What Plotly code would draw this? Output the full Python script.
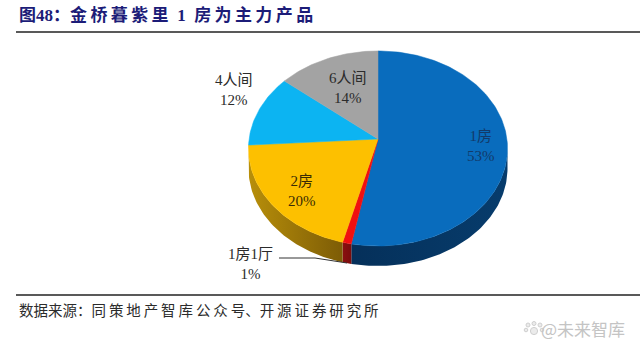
import math
import plotly.graph_objects as go

categories = ["1房", "1房1厅", "2房", "4人间", "6人间"]
values = [53, 1, 20, 12, 14]
top_colors = ["#096cbd", "#f01010", "#fdc000", "#0cb4f2", "#a3a3a3"]
side_colors = [("#05305a", "#073c6c"), ("#8a1010", "#7a0c0c"), ("#b88f0a", "#7d5c06"), None, None]

TITLE = "图48\uff1a金\u2009桥\u2009暮\u2009紫\u2009里\u2002<b>1</b>\u2002房\u2009为\u2009主\u2009力\u2009产\u2009品"
SOURCE = "数据来源\uff1a同\u2009策\u2009地\u2009产\u2009智\u2009库\u2009公\u2009众\u2009号、开\u2009源\u2009证\u2009券\u2009研\u2009究\u2009所"
WATERMARK = "@未来智库"

CX, CY, BX, AY, K, DEPTH = 378, 139, 128.9, 96.6, 0.097, 20


def rim(t):
    u, v = math.sin(t), math.cos(t)
    w = 1 + K * v
    return CX + BX * u / w, CY - AY * v / w


def arc(p0, p1):
    n = max(2, int(abs(p1 - p0) * 3) + 2)
    return [rim(2 * math.pi * (p0 + (p1 - p0) * i / (n - 1)) / 100) for i in range(n)]


fig = go.Figure()
total = sum(values)
cum = 0
spans = []
for v in values:
    spans.append((cum * 100 / total, (cum + v) * 100 / total))
    cum += v

# side walls (only the part of the rim facing the viewer)
for (p0, p1), side in zip(spans, side_colors):
    if side is None:
        continue
    a = max(p0, 26)
    b = min(p1, 74.5)
    pts = arc(a, b)
    xs = [p[0] for p in pts] + [p[0] for p in reversed(pts)] + [pts[0][0]]
    ys = [p[1] for p in pts] + [p[1] + DEPTH for p in reversed(pts)] + [pts[0][1]]
    fig.add_trace(go.Scatter(
        x=xs, y=ys, mode="lines", line=dict(width=0), hoverinfo="skip",
        fill="toself",
        fillgradient=dict(type="horizontal", colorscale=[[0, side[0]], [1, side[1]]]),
    ))

# top face
for (p0, p1), c in zip(spans, top_colors):
    pts = arc(p0, p1)
    xs = [CX] + [p[0] for p in pts] + [CX]
    ys = [CY] + [p[1] for p in pts] + [CY]
    fig.add_trace(go.Scatter(
        x=xs, y=ys, mode="lines", line=dict(width=0.5, color=c), fill="toself",
        fillcolor=c, hoverinfo="skip",
    ))

# leader line for the small slice
fig.add_trace(go.Scatter(x=[279, 315, 347], y=[258, 258, 263], mode="lines",
                         line=dict(color="#333333", width=1), hoverinfo="skip"))

label_pos = [(481, 146, "#123a6a"), (250, 264, "#2b2b2b"), (302, 191, "#3a2c05"), (234, 90, "#2b2b2b"), (348, 88, "#2b2b2b")]
NUM = "Liberation Serif, Noto Sans CJK SC"
annotations = []
for cat, v, (x, y, col) in zip(categories, values, label_pos):
    annotations.append(dict(x=x, y=y, text=f"{cat}<br>{v}%", showarrow=False, xanchor="center", yanchor="middle",
                            font=dict(family=NUM, size=15, color=col), align="center"))
annotations.append(dict(x=17, y=15, text=TITLE, showarrow=False, xanchor="left", yanchor="middle",
                        font=dict(family="Liberation Serif, Noto Sans CJK SC", size=17, color="#1c1c78", weight="bold")))
annotations.append(dict(x=17, y=309, text=SOURCE, showarrow=False, xanchor="left", yanchor="middle",
                        font=dict(family="Noto Sans CJK SC", size=14.5, color="#2b2b2b")))
annotations.append(dict(x=627, y=328, text=WATERMARK, showarrow=False, xanchor="right", yanchor="middle",
                        font=dict(family="Noto Sans CJK SC", size=17, color="#c4c4c4")))

shapes = [
    dict(type="line", x0=16, x1=640, y0=32, y1=32, line=dict(color="#222222", width=1.6)),
    dict(type="line", x0=16, x1=640, y0=295, y1=295, line=dict(color="#222222", width=1.6)),
]
# small paw mark in front of the watermark
for px, py, r in [(528, 325, 2), (534, 323.5, 2), (540, 325, 2), (526, 330, 1.8), (542, 330, 1.8), (534, 331, 3.6)]:
    shapes.append(dict(type="circle", x0=px - r, x1=px + r, y0=py - r, y1=py + r,
                       line=dict(color="#cfcfcf", width=1), fillcolor="#ebebeb"))

fig.update_layout(
    width=640, height=351, margin=dict(l=0, r=0, t=0, b=0), showlegend=False,
    paper_bgcolor="white", plot_bgcolor="white",
    xaxis=dict(range=[0, 640], visible=False, fixedrange=True),
    yaxis=dict(range=[351, 0], visible=False, fixedrange=True),
    annotations=annotations, shapes=shapes,
)
fig.write_html("out.html", config=dict(displayModeBar=False),
               post_script="document.body.style.margin='0';")
